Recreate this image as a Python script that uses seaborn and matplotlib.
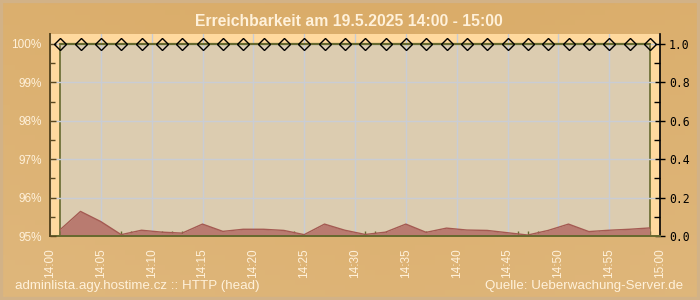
import matplotlib
matplotlib.use("Agg")
import matplotlib.pyplot as plt
import numpy as np
import pandas as pd
import seaborn as sns
from matplotlib.patches import Rectangle
from matplotlib.ticker import MultipleLocator, FixedLocator, FormatStrFormatter

# --- data -----------------------------------------------------------------
minutes = [1, 3, 5, 7, 9, 11, 13, 15, 17, 19, 21, 23, 25, 27, 29,
           31, 33, 35, 37, 39, 41, 43, 45, 47, 49, 51, 53, 55, 57, 59]
availability = [100, 100, 100, 100, 100, 100, 100, 100, 100, 100,
                100, 100, 100, 100, 100, 100, 100, 100, 100, 100,
                100, 100, 100, 100, 100, 100, 100, 100, 100, 100]
response_time = [0.033, 0.128, 0.075, 0.007, 0.030, 0.020, 0.015, 0.062, 0.024, 0.035,
                 0.035, 0.029, 0.007, 0.062, 0.030, 0.008, 0.020, 0.062, 0.019, 0.041,
                 0.031, 0.029, 0.017, 0.005, 0.029, 0.062, 0.023, 0.030, 0.035, 0.042]
tick_minutes = [0, 5, 10, 15, 20, 25, 30, 35, 40, 45, 50, 55, 60]
tick_labels = ["14:00", "14:05", "14:10", "14:15", "14:20", "14:25", "14:30",
               "14:35", "14:40", "14:45", "14:50", "14:55", "15:00"]
pct_ticks = [95, 96, 97, 98, 99, 100]
pct_labels = ["95%", "96%", "97%", "98%", "99%", "100%"]

title = "Erreichbarkeit am 19.5.2025 14:00 - 15:00"
footer_left = "adminlista.agy.hostime.cz :: HTTP (head)"
footer_right = "Quelle: Ueberwachung-Server.de"

df_av = pd.DataFrame({"minute": minutes, "availability": availability})
df_rt = pd.DataFrame({"minute": minutes, "response": response_time})

# --- style ----------------------------------------------------------------
sns.set_theme(style="white")
plt.rcParams["font.family"] = ["Liberation Sans", "DejaVu Sans"]

CREAM = "#FFF1DA"
OLIVE = "#66692F"
BROWN = "#5A4820"

fig = plt.figure(figsize=(7, 3), dpi=100)
fig.patch.set_facecolor("#DDB06E")

# soft warm background gradient
bg = fig.add_axes([0, 0, 1, 1], zorder=-10)
gy, gx = np.mgrid[0:1:60j, 0:1:140j]
grad = 0.55 * gy + 0.45 * (1 - np.abs(gx - 0.55))
bg.imshow(grad, extent=[0, 1, 0, 1], aspect="auto", origin="lower",
          cmap=matplotlib.colors.LinearSegmentedColormap.from_list(
              "warm", ["#DFB77C", "#DAAC68"]))
bg.set_axis_off()
fig.patches.append(Rectangle((0, 0), 1, 1, transform=fig.transFigure, fill=False,
                             edgecolor="#D2B287", linewidth=4.5, zorder=-5))

# --- axes: response time (right scale, background) and availability (left) --
ax = fig.add_axes([50 / 700, 64 / 300, 610 / 700, 202 / 300])
av = ax.twinx()

ax.set_facecolor("#FFD99E")
ax.set_axisbelow(True)

ax.add_patch(Rectangle((1, 0), 58, 1.0, facecolor="#DCCCB0", edgecolor=OLIVE,
                       linewidth=1.2, zorder=0.2))
ax.grid(True, which="major", color="#C9CCD4", linewidth=1)

ax.fill_between(df_rt["minute"], df_rt["response"], 0, color="#B97B70", zorder=2,
                linewidth=0)
sns.lineplot(data=df_rt, x="minute", y="response", ax=ax, color="#A45A52",
             linewidth=1, zorder=2.5)
ax.set_xticks(tick_minutes)
ax.set_xticklabels(tick_labels, rotation=90, color=CREAM, fontsize=8.5)
ax.xaxis.set_minor_locator(MultipleLocator(1))
ax.yaxis.set_major_locator(MultipleLocator(0.2))
ax.yaxis.set_minor_locator(MultipleLocator(0.1))
ax.set_xlim(0, 60)
ax.set_ylim(0, 1.052)

ax.yaxis.tick_right()
ax.yaxis.set_major_formatter(FormatStrFormatter("%.1f"))
ax.tick_params(axis="y", which="major", direction="inout", length=7, width=1,
               color="black", labelcolor="black", labelsize=8.3, pad=3,
               left=False, right=True, labelleft=False, labelright=True)
ax.tick_params(axis="y", which="minor", direction="in", length=4, width=1,
               color="black", left=False, right=True)
for lbl in ax.get_yticklabels():
    lbl.set_fontfamily("DejaVu Sans Mono")
ax.tick_params(axis="x", which="major", direction="in", length=6, width=1.2,
               color=OLIVE, pad=9)
ax.tick_params(axis="x", which="minor", direction="in", length=3.5, width=1,
               color=OLIVE, bottom=True)
ax.set_xlabel("")
ax.set_ylabel("")
for side in ("top", "left"):
    ax.spines[side].set_visible(False)
ax.spines["right"].set_color("black")
ax.spines["right"].set_linewidth(1.2)
ax.spines["bottom"].set_color(OLIVE)
ax.spines["bottom"].set_linewidth(1.4)

av.patch.set_visible(False)
sns.lineplot(data=df_av, x="minute", y="availability", ax=av, color=OLIVE,
             linewidth=1.6, marker="D", markersize=6, markerfacecolor="none",
             markeredgecolor="black", markeredgewidth=1, zorder=5, clip_on=False)
av.set_xlim(0, 60)
av.set_ylim(95, 100.26)
av.yaxis.tick_left()
av.set_yticks(pct_ticks)
av.set_yticklabels(pct_labels)
av.yaxis.set_minor_locator(MultipleLocator(0.5))
av.tick_params(axis="y", which="major", direction="in", length=4, width=1,
               color=BROWN, labelcolor=CREAM, labelsize=8.5, pad=6,
               left=True, right=False, labelleft=True, labelright=False)
av.tick_params(axis="y", which="minor", direction="in", length=3.5, width=1,
               color=BROWN, left=True, right=False)
av.set_xlabel("")
av.set_ylabel("")
for side in ("top", "right", "bottom"):
    av.spines[side].set_visible(False)
av.spines["left"].set_color(BROWN)
av.spines["left"].set_linewidth(1.4)

# --- texts ----------------------------------------------------------------
fig.text(0.498, 0.928, title, ha="center", va="center", color=CREAM,
         fontsize=11.3, fontweight="bold")
fig.text(15 / 700, 1 - 286 / 300, footer_left, ha="left", va="center",
         color=CREAM, fontsize=9.6)
fig.text(683 / 700, 1 - 286 / 300, footer_right, ha="right", va="center",
         color=CREAM, fontsize=9.6)

fig.savefig("out.png", dpi=100, facecolor=fig.get_facecolor())
